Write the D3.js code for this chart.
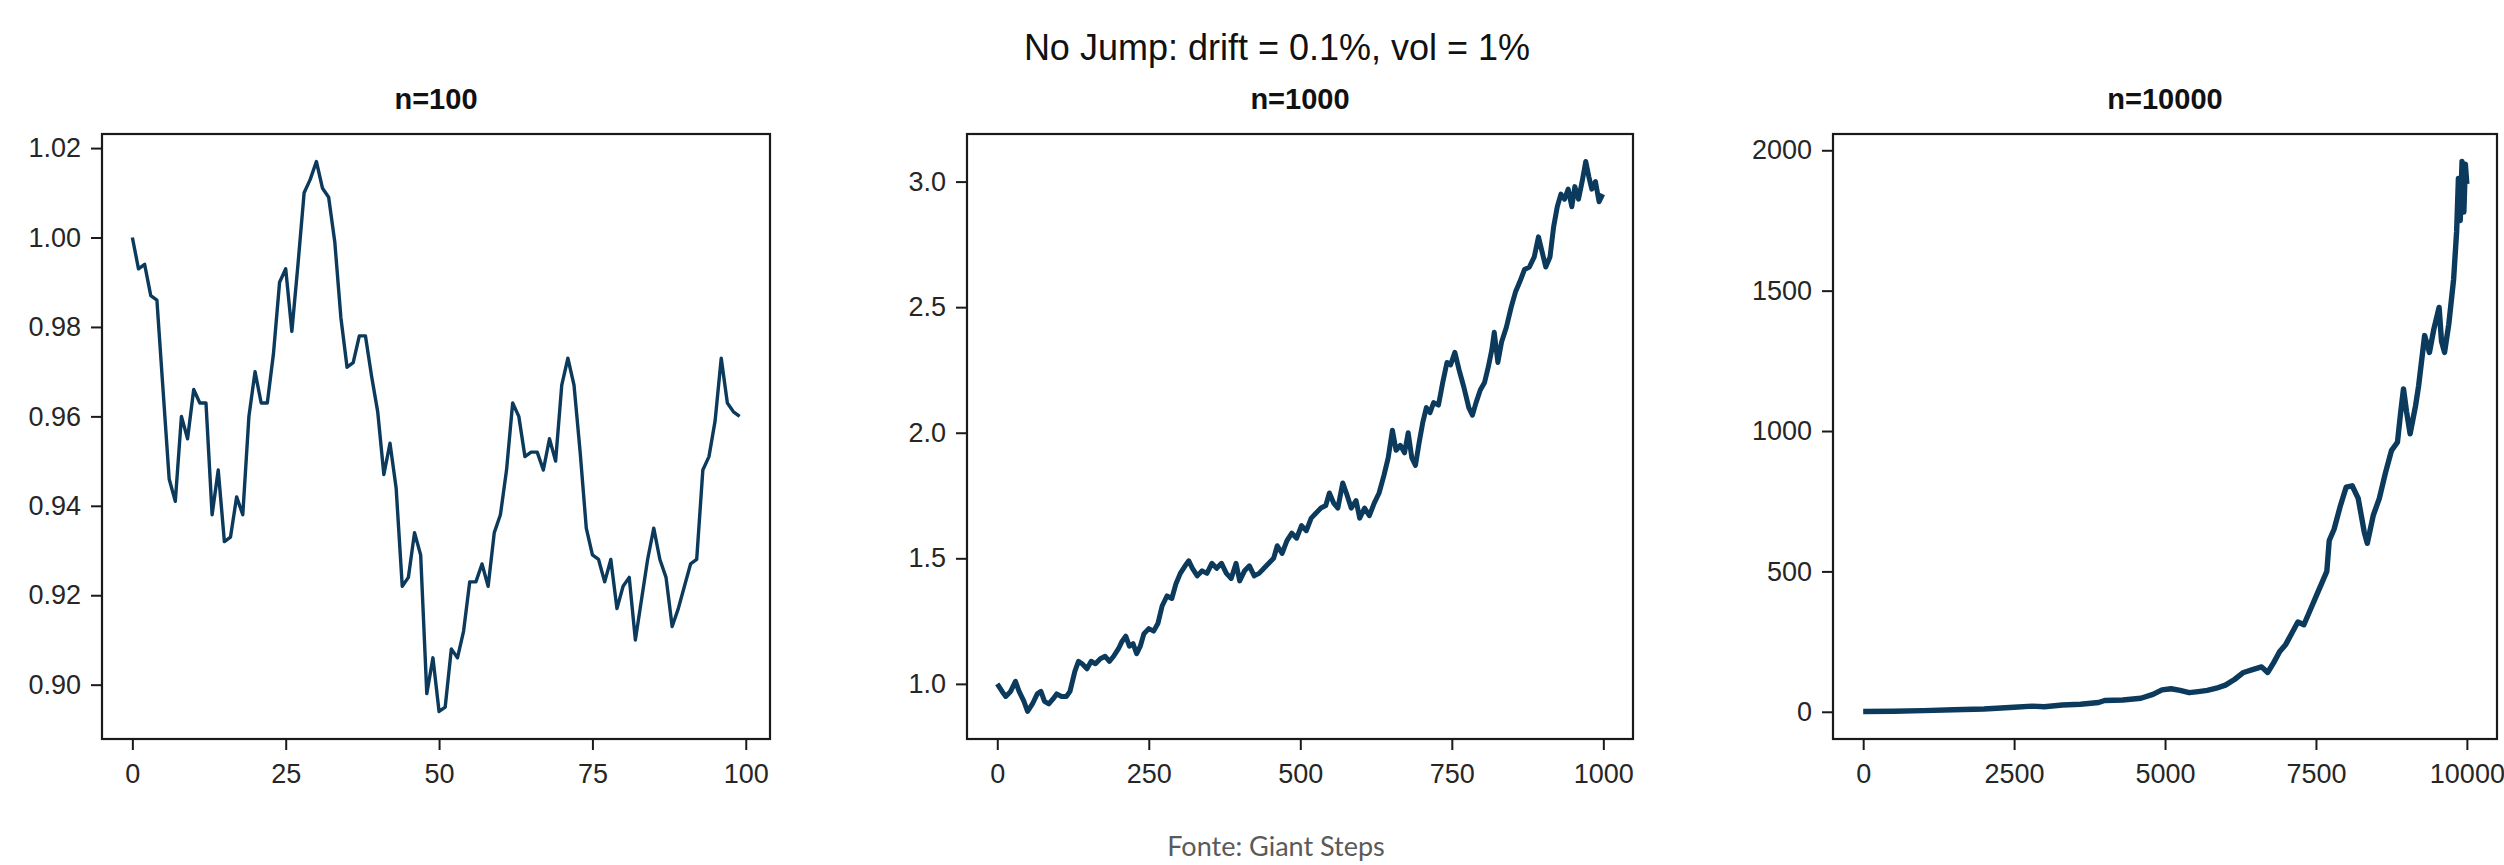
<!DOCTYPE html>
<html>
<head>
<meta charset="utf-8">
<script src="https://cdn.jsdelivr.net/npm/d3@7"></script>
<style>
  html, body { margin: 0; padding: 0; background: #ffffff; }
  svg { display: block; }
</style>
</head>
<body>
<svg id="chart" width="2504" height="865"></svg>
<script>
// ---- Data -------------------------------------------------------------
const suptitle = "No Jump: drift = 0.1%, vol = 1%";
const sourceNote = "Fonte: Giant Steps";
const panelTitles = ["n=100", "n=1000", "n=10000"];

// n = 100 path, one value per step (0..99)
const path100 = [
  1.000, 0.993, 0.994, 0.987, 0.986, 0.966, 0.946, 0.941, 0.960, 0.955,
  0.966, 0.963, 0.963, 0.938, 0.948, 0.932, 0.933, 0.942, 0.938, 0.960,
  0.970, 0.963, 0.963, 0.974, 0.990, 0.993, 0.979, 0.994, 1.010, 1.013,
  1.017, 1.011, 1.009, 0.999, 0.982, 0.971, 0.972, 0.978, 0.978, 0.969,
  0.961, 0.947, 0.954, 0.944, 0.922, 0.924, 0.934, 0.929, 0.898, 0.906,
  0.894, 0.895, 0.908, 0.906, 0.912, 0.923, 0.923, 0.927, 0.922, 0.934,
  0.938, 0.948, 0.963, 0.960, 0.951, 0.952, 0.952, 0.948, 0.955, 0.950,
  0.967, 0.973, 0.967, 0.952, 0.935, 0.929, 0.928, 0.923, 0.928, 0.917,
  0.922, 0.924, 0.910, 0.919, 0.928, 0.935, 0.928, 0.924, 0.913, 0.917,
  0.922, 0.927, 0.928, 0.948, 0.951, 0.959, 0.973, 0.963, 0.961, 0.960
];

// n = 1000 path, read at selected steps
const steps1000 = [
  0, 8, 14, 22, 30, 36, 44, 50, 58, 66, 72, 78, 85, 92, 98, 106, 114, 120, 128, 134,
  140, 148, 155, 162, 170, 178, 185, 192, 200, 206, 212, 218, 224, 230, 236, 242, 250, 258, 265, 272,
  280, 288, 295, 302, 310, 316, 322, 330, 338, 346, 354, 362, 370, 378, 386, 394, 400, 408, 416, 424,
  432, 440, 448, 456, 462, 470, 478, 486, 494, 502, 510, 518, 526, 534, 542, 548, 555, 562, 570, 576,
  584, 592, 598, 606, 614, 622, 630, 638, 645, 652, 658, 665, 672, 678, 684, 690, 696, 702, 708, 714,
  720, 728, 735, 742, 748, 755, 762, 770, 778, 784, 790, 797, 804, 810, 816, 820, 826, 832, 840, 848,
  855, 862, 870, 878, 886, 893, 899, 905, 912, 918, 924, 930, 936, 942, 948, 953, 959, 965, 971, 976,
  981, 987, 993, 999
];
const values1000 = [
  1.00, 0.97, 0.95, 0.97, 1.01, 0.97, 0.93, 0.89, 0.92, 0.96, 0.97, 0.93, 0.92, 0.94, 0.96, 0.95, 0.95, 0.97, 1.05, 1.09,
  1.08, 1.06, 1.09, 1.08, 1.10, 1.11, 1.09, 1.11, 1.14, 1.17, 1.19, 1.15, 1.16, 1.12, 1.15, 1.20, 1.22, 1.21, 1.24, 1.31,
  1.35, 1.34, 1.40, 1.44, 1.47, 1.49, 1.46, 1.43, 1.45, 1.44, 1.48, 1.46, 1.48, 1.44, 1.42, 1.48, 1.41, 1.45, 1.47, 1.43,
  1.44, 1.46, 1.48, 1.50, 1.55, 1.52, 1.57, 1.60, 1.58, 1.63, 1.61, 1.66, 1.68, 1.70, 1.71, 1.76, 1.72, 1.70, 1.80, 1.76,
  1.70, 1.73, 1.66, 1.70, 1.67, 1.72, 1.76, 1.83, 1.90, 2.01, 1.93, 1.95, 1.92, 2.00, 1.90, 1.87, 1.96, 2.04, 2.10, 2.08,
  2.12, 2.11, 2.20, 2.28, 2.27, 2.32, 2.25, 2.18, 2.10, 2.07, 2.12, 2.17, 2.20, 2.26, 2.33, 2.40, 2.28, 2.36, 2.42, 2.50,
  2.56, 2.60, 2.65, 2.66, 2.70, 2.78, 2.72, 2.66, 2.70, 2.82, 2.90, 2.95, 2.93, 2.97, 2.90, 2.98, 2.93, 3.00, 3.08, 3.02,
  2.97, 3.00, 2.92, 2.95
];

// n = 10000 path, read at selected steps
const steps10000 = [
  0, 500, 1000, 1500, 2000, 2500, 2800, 3000, 3300, 3600, 3900, 4000, 4300, 4600, 4800, 4950, 5100, 5250, 5400, 5550,
  5700, 5850, 6000, 6150, 6300, 6450, 6600, 6700, 6800, 6900, 7000, 7100, 7200, 7300, 7400, 7500, 7600, 7680, 7720, 7800,
  7900, 8000, 8100, 8200, 8300, 8350, 8450, 8550, 8650, 8750, 8850, 8900, 8950, 9000, 9060, 9150, 9200, 9300, 9380, 9450,
  9540, 9580, 9630, 9700, 9780, 9830, 9860, 9890, 9920, 9950, 9975, 9999
];
const values10000 = [
  1, 2, 4, 7, 10, 16, 20, 18, 24, 27, 33, 40, 42, 48, 62, 78, 82, 76, 68, 72,
  76, 84, 95, 115, 140, 150, 160, 140, 175, 215, 240, 280, 320, 310, 360, 410, 460, 500, 610, 650,
  730, 800, 805, 760, 640, 600, 700, 760, 850, 930, 960, 1060, 1150, 1070, 990, 1090, 1160, 1340, 1280, 1360,
  1440, 1320, 1280, 1380, 1540, 1710, 1900, 1750, 1960, 1780, 1950, 1880
];

// Tick values per panel
const xTicks100 = [0, 25, 50, 75, 100];
const yTicks100 = [0.90, 0.92, 0.94, 0.96, 0.98, 1.00, 1.02];
const xTicks1000 = [0, 250, 500, 750, 1000];
const yTicks1000 = [1.0, 1.5, 2.0, 2.5, 3.0];
const xTicks10000 = [0, 2500, 5000, 7500, 10000];
const yTicks10000 = [0, 500, 1000, 1500, 2000];

// ---- Layout -----------------------------------------------------------
const lineColor = "#0b3a5c";
const axisColor = "#1a1a1a";
const textColor = "#262626";
const fontFamily = "'Liberation Sans', Arial, Helvetica, sans-serif";

const panels = [
  { title: panelTitles[0], xs: path100.map((_, i) => i), ys: path100,
    xTicks: xTicks100, yTicks: yTicks100, yFmt: d3.format(".2f"),
    left: 102, right: 770, strokeW: 3.4 },
  { title: panelTitles[1], xs: steps1000, ys: values1000,
    xTicks: xTicks1000, yTicks: yTicks1000, yFmt: d3.format(".1f"),
    left: 967, right: 1633, strokeW: 5 },
  { title: panelTitles[2], xs: steps10000, ys: values10000,
    xTicks: xTicks10000, yTicks: yTicks10000, yFmt: d3.format("d"),
    left: 1833, right: 2497, strokeW: 5.4 }
];
const plotTop = 134, plotBottom = 739;

const svg = d3.select("#chart");

// padded extent, 5% on each side
function padded(ext) {
  const span = ext[1] - ext[0];
  return [ext[0] - span * 0.05, ext[1] + span * 0.05];
}

panels.forEach(p => {
  const x = d3.scaleLinear().domain(padded(d3.extent(p.xs))).range([p.left, p.right]);
  const y = d3.scaleLinear().domain(padded(d3.extent(p.ys))).range([plotBottom, plotTop]);

  const g = svg.append("g");

  // series
  const line = d3.line().x((d, i) => x(p.xs[i])).y(d => y(d));
  g.append("path")
    .datum(p.ys)
    .attr("fill", "none")
    .attr("stroke", lineColor)
    .attr("stroke-width", p.strokeW)
    .attr("stroke-linejoin", "round")
    .attr("d", line);

  // axes
  const xAxis = d3.axisBottom(x).tickValues(p.xTicks).tickSize(11).tickPadding(10)
    .tickFormat(d3.format("d"));
  const yAxis = d3.axisLeft(y).tickValues(p.yTicks).tickSize(11).tickPadding(10)
    .tickFormat(p.yFmt);

  const gx = g.append("g").attr("transform", `translate(0,${plotBottom})`).call(xAxis);
  const gy = g.append("g").attr("transform", `translate(${p.left},0)`).call(yAxis);
  [gx, gy].forEach(a => {
    a.select(".domain").remove();
    a.selectAll(".tick line").attr("stroke", axisColor).attr("stroke-width", 2);
    a.selectAll(".tick text")
      .attr("fill", textColor)
      .style("font-family", fontFamily)
      .style("font-size", "27px");
  });
  gx.selectAll(".tick text").attr("dy", "0.85em");

  // frame
  g.append("rect")
    .attr("x", p.left).attr("y", plotTop)
    .attr("width", p.right - p.left).attr("height", plotBottom - plotTop)
    .attr("fill", "none").attr("stroke", axisColor).attr("stroke-width", 2.2);

  // panel title
  g.append("text")
    .attr("x", (p.left + p.right) / 2).attr("y", 109)
    .attr("text-anchor", "middle")
    .attr("fill", "#111")
    .style("font-family", fontFamily)
    .style("font-weight", "bold")
    .style("font-size", "29px")
    .text(p.title);
});

// figure title
svg.append("text")
  .attr("x", 1277).attr("y", 60)
  .attr("text-anchor", "middle")
  .attr("fill", "#111")
  .style("font-family", fontFamily)
  .style("font-size", "36px")
  .text(suptitle);

// source note
svg.append("text")
  .attr("x", 1276).attr("y", 856)
  .attr("text-anchor", "middle")
  .attr("fill", "#5a5a5a")
  .style("font-family", "Lato, 'Open Sans', sans-serif")
  .style("font-size", "27px")
  .text(sourceNote);
</script>
</body>
</html>
